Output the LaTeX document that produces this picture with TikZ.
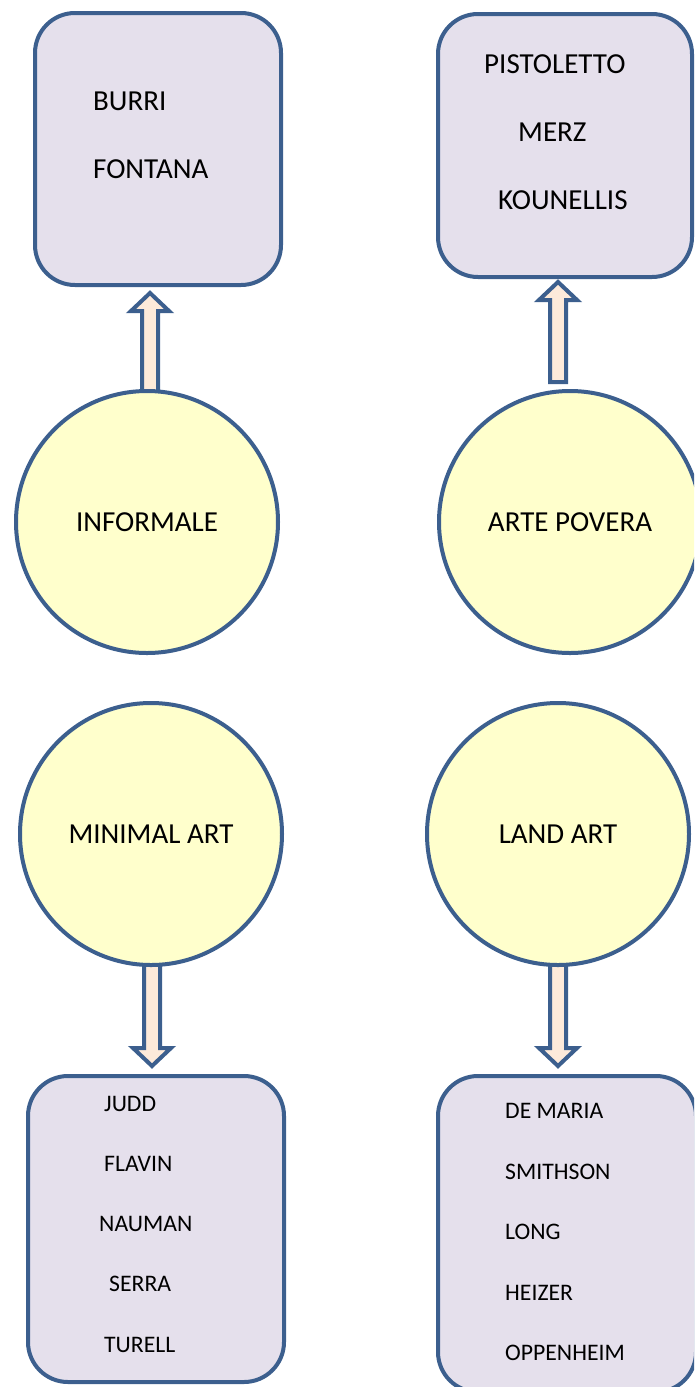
\documentclass[tikz,border=0pt]{standalone}
\usepackage{fontspec}
\setmainfont{Carlito}
\usetikzlibrary{calc}
\definecolor{edge}{RGB}{60,95,142}
\definecolor{boxfill}{RGB}{229,224,236}
\definecolor{ballfill}{RGB}{255,255,204}
\definecolor{shaftfill}{RGB}{253,234,218}
\tikzset{
  namebox/.style={draw=edge, fill=boxfill, line width=4pt, rounded corners=40pt, inner sep=0pt},
  movement/.style={circle, draw=edge, fill=ballfill, line width=4pt, minimum size=262pt, inner sep=0pt,
    font=\fontsize{29}{34}\selectfont},
  bigname/.style={anchor=west, inner sep=0pt, font=\fontsize{29}{34}\selectfont},
  smallname/.style={anchor=west, inner sep=0pt, font=\fontsize{23.7}{28}\selectfont},
  blockarrow/.style={draw=edge, fill=shaftfill, line width=4pt, line join=miter}
}
% fat arrow from #1 to tip #2
\newcommand{\fatarrow}[2]{%
  \coordinate (h) at ($(#2)!18pt!(#1)$);
  \draw[blockarrow] ($(#1)!8pt!90:(#2)$) -- ($(h)!8pt!-90:(#1)$) -- ($(h)!19pt!-90:(#1)$) -- (#2)
    -- ($(h)!19pt!90:(#1)$) -- ($(h)!8pt!90:(#1)$) -- ($(#1)!8pt!-90:(#2)$) -- cycle;}
\begin{document}
\begin{tikzpicture}[x=1pt, y=-1pt, line join=round, line cap=round]
\useasboundingbox (0,0) rectangle (694,1387);
\clip (0,0) rectangle (694,1387);
% boxes
\node[namebox, minimum width=246pt, minimum height=272pt] (informale names) at (158,149) {};
\node[namebox, minimum width=254pt, minimum height=263pt] (povera names) at (565,145.5) {};
\node[namebox, minimum width=256pt, minimum height=306pt] (minimal names) at (156,1229) {};
\node[namebox, minimum width=258pt, minimum height=316pt] (land names) at (567,1234) {};
% arrows
\coordinate (inf up) at (150,400);
\coordinate (inf tip) at (150,293);
\coordinate (pov up) at (558,382);
\coordinate (pov tip) at (558,282);
\coordinate (min down) at (152,955);
\coordinate (min tip) at (152,1066);
\coordinate (land down) at (558,955);
\coordinate (land tip) at (558,1066);
\fatarrow{inf up}{inf tip}
\fatarrow{pov up}{pov tip}
\fatarrow{min down}{min tip}
\fatarrow{land down}{land tip}
% movements
\node[movement] (informale) at (147,522) {INFORMALE};
\node[movement] (povera) at (570,522) {ARTE POVERA};
\node[movement] (minimal) at (151,834) {MINIMAL ART};
\node[movement] (land) at (558,834) {LAND ART};
% artists
\node[bigname] (burri) at (93,101) {BURRI};
\node[bigname] (fontana) at (93,169) {FONTANA};
\node[bigname] (pistoletto) at (484,64) {PISTOLETTO};
\node[bigname] (merz) at (518,132) {MERZ};
\node[bigname] (kounellis) at (498,200) {KOUNELLIS};
\node[smallname] (judd) at (104,1104) {JUDD};
\node[smallname] (flavin) at (104,1164) {FLAVIN};
\node[smallname] (nauman) at (99,1224) {NAUMAN};
\node[smallname] (serra) at (109,1284) {SERRA};
\node[smallname] (turell) at (104,1345) {TURELL};
\node[smallname] (demaria) at (505,1111) {DE MARIA};
\node[smallname] (smithson) at (505,1172) {SMITHSON};
\node[smallname] (long) at (505,1232) {LONG};
\node[smallname] (heizer) at (505,1293) {HEIZER};
\node[smallname] (oppenheim) at (505,1353) {OPPENHEIM};
\end{tikzpicture}
\end{document}
